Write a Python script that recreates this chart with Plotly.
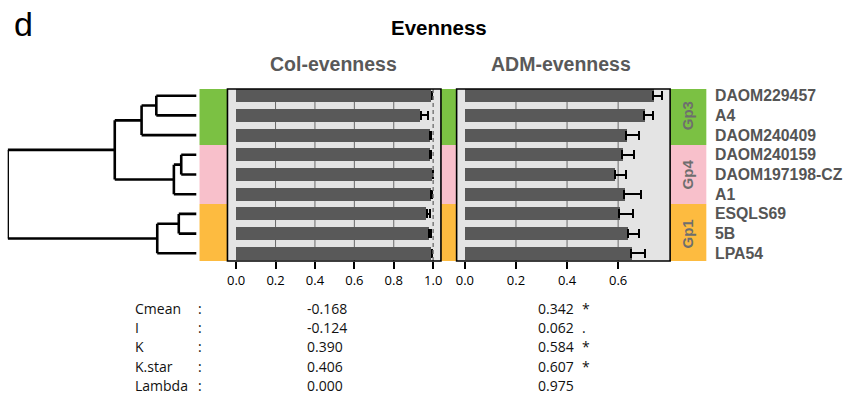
import plotly.graph_objects as go

W, H = 844, 395

# ---------------- data ----------------
strains = ["DAOM229457", "A4", "DAOM240409", "DAOM240159", "DAOM197198-CZ",
           "A1", "ESQLS69", "5B", "LPA54"]
groups = ["Gp3", "Gp4", "Gp1"]
group_sizes = [3, 3, 3]
group_colors = ["#7BC143", "#F8C0CB", "#FDBB40"]

col_mean = [0.992, 0.938, 0.984, 0.985, 0.997, 0.989, 0.967, 0.980, 0.992]
col_err = [0.004, 0.034, 0.005, 0.005, 0.003, 0.004, 0.017, 0.007, 0.004]
adm_mean = [0.737, 0.702, 0.632, 0.616, 0.586, 0.624, 0.605, 0.639, 0.652]
adm_err = [0.034, 0.034, 0.049, 0.048, 0.043, 0.066, 0.055, 0.042, 0.052]

col_ticks = [0.0, 0.2, 0.4, 0.6, 0.8, 1.0]
adm_ticks = [0.0, 0.2, 0.4, 0.6]
panel_titles = ["Col-evenness", "ADM-evenness"]
main_title = "Evenness"
panel_letter = "d"

# dendrogram (hclust style: negative = leaf (1-based), positive = earlier merge row)
merge = [(-1, -2), (1, -3), (-4, -5), (3, -6), (2, 4), (-7, -8), (6, -9), (5, 7)]
merge_height = [0.213, 0.291, 0.081, 0.120, 0.433, 0.094, 0.208, 1.0]

stat_names = ["Cmean", "I", "K", "K.star", "Lambda"]
col_stats = [-0.168, -0.124, 0.390, 0.406, 0.000]
adm_stats = [0.342, 0.062, 0.584, 0.607, 0.975]
adm_sig = ["*", ".", "*", "*", ""]

# ---------------- geometry helpers ----------------
def px(x):
    return x / W


def py(y):
    return 1 - y / H


Y_RANGE = [8.39, -0.34]
Y_DOM = [py(261), py(89)]
COL_DOM = [px(227), px(441)]
ADM_DOM = [px(456.7), px(670.7)]
ypos = list(range(len(strains)))

fig = go.Figure()

# ---------------- dendrogram ----------------
node_y = {}
node_h = {}
for i in range(len(strains)):
    node_y[-(i + 1)] = ypos[i]
    node_h[-(i + 1)] = 0.0
dx, dy = [], []
for k, ((a, b), h) in enumerate(zip(merge, merge_height), start=1):
    for c in (a, b):
        dx += [node_h[c], h, None]
        dy += [node_y[c], node_y[c], None]
    dx += [h, h, None]
    dy += [node_y[a], node_y[b], None]
    node_y[k] = (node_y[a] + node_y[b]) / 2
    node_h[k] = h

fig.add_trace(go.Scatter(x=dx, y=dy, mode="lines", xaxis="x", yaxis="y",
                         line=dict(color="black", width=2.6), cliponaxis=False,
                         hoverinfo="skip"))

# ---------------- bars ----------------
for vals, errs, xa in [(col_mean, col_err, "x2"), (adm_mean, adm_err, "x3")]:
    fig.add_trace(go.Bar(
        x=vals, y=ypos, orientation="h", width=0.66, xaxis=xa, yaxis="y",
        marker=dict(color="#595959", line=dict(width=0)),
        error_x=dict(type="data", array=errs, arrayminus=[0] * len(errs),
                     symmetric=False, color="black", thickness=2, width=4.5),
    ))

shapes = []
# group colour strips
start = 0
for g, n, c in zip(groups, group_sizes, group_colors):
    y0 = max(start - 0.5, min(Y_RANGE))
    y1 = min(start + n - 0.5, max(Y_RANGE))
    shapes.append(dict(type="rect", xref="paper", yref="y", x0=px(199), x1=px(707),
                       y0=y0, y1=y1, fillcolor=c, line=dict(width=0), layer="below"))
    start += n
# panel backgrounds
for dom in (COL_DOM, ADM_DOM):
    shapes.append(dict(type="rect", xref="paper", yref="paper", x0=dom[0], x1=dom[1],
                       y0=Y_DOM[0], y1=Y_DOM[1], fillcolor="#E4E4E4",
                       line=dict(width=0), layer="below"))
# grid segments (visible between bars)
for ticks, xa in [(col_ticks[1:-1], "x2"), (adm_ticks[1:], "x3")]:
    for t in ticks:
        shapes.append(dict(type="line", xref=xa, yref="y domain", x0=t, x1=t, y0=0, y1=1,
                           line=dict(color="#6a6a6a", width=1), layer="below"))
# dashed reference line at 1.0 in Col panel
shapes.append(dict(type="line", xref="x2", yref="y domain", x0=col_ticks[-1], x1=col_ticks[-1],
                   y0=0, y1=1, line=dict(color="#7a7a7a", width=1.5, dash="4px,3px"),
                   layer="above"))
# panel borders
for dom in (COL_DOM, ADM_DOM):
    shapes.append(dict(type="rect", xref="paper", yref="paper", x0=dom[0], x1=dom[1],
                       y0=Y_DOM[0], y1=Y_DOM[1], fillcolor="rgba(0,0,0,0)",
                       line=dict(color="black", width=1.6), layer="above"))

annotations = []
FONT = "Liberation Sans, Arial, sans-serif"
TFONT = "Open Sans, sans-serif"
annotations.append(dict(text=panel_letter, x=px(11), y=py(24), xref="paper", yref="paper",
                        xanchor="left", yanchor="middle", showarrow=False,
                        font=dict(family=FONT, size=34, color="black")))
annotations.append(dict(text="<b>%s</b>" % main_title, x=px(439), y=py(27), xref="paper",
                        yref="paper", xanchor="center", yanchor="middle", showarrow=False,
                        font=dict(family=FONT, size=20.5, color="black")))
for t, xc in zip(panel_titles, [333.6, 561]):
    annotations.append(dict(text="<b>%s</b>" % t, x=px(xc), y=py(64), xref="paper",
                            yref="paper", xanchor="center", yanchor="middle", showarrow=False,
                            font=dict(family=FONT, size=19.5, color="#595959")))
# group labels
start = 0
for g, n in zip(groups, group_sizes):
    annotations.append(dict(text="<b>%s</b>" % g, x=px(688.5), y=start + (n - 1) / 2,
                            xref="paper", yref="y",
                            textangle=-90, xanchor="center", yanchor="middle", showarrow=False,
                            font=dict(family=FONT, size=15, color="#6e6e6e")))
    start += n
# strain labels
for s, yv in zip(strains, ypos):
    annotations.append(dict(text="<b>%s</b>" % s, x=px(714), y=yv, xref="paper", yref="y",
                            xanchor="left", yanchor="middle", showarrow=False,
                            font=dict(family=FONT, size=15.8, color="#555555")))
# statistics table
for i, (nm, cv, av, sg) in enumerate(zip(stat_names, col_stats, adm_stats, adm_sig)):
    yy = py(308 + 19.4 * i)
    for txt, xx in [(nm, 133), (":", 196.5), ("%.3f" % cv, 305.5), ("%.3f" % av, 537),
                    (sg, 581.5)]:
        if txt == "":
            continue
        annotations.append(dict(text=txt, x=px(xx), y=yy, xref="paper", yref="paper",
                                xanchor="left", yanchor="middle", showarrow=False,
                                borderpad=0,
                                font=dict(family=TFONT, size=14, color="#111111")))

axis_common = dict(anchor="y", ticks="outside", ticklen=7, tickwidth=1.5, tickcolor="black",
                   showgrid=False, zeroline=False, showline=False, tickformat=".1f",
                   tickfont=dict(family=TFONT, size=13, color="black"), fixedrange=True)

fig.update_layout(
    width=W, height=H, margin=dict(l=0, r=0, t=0, b=0),
    paper_bgcolor="white", plot_bgcolor="rgba(0,0,0,0)",
    showlegend=False, bargap=0,
    xaxis=dict(domain=[px(6.7), px(196)], range=[merge_height[-1], 0], visible=False,
               anchor="y", fixedrange=True),
    xaxis2=dict(domain=COL_DOM, range=[-0.044, 1.0395], tickvals=col_ticks, **axis_common),
    xaxis3=dict(domain=ADM_DOM, range=[-0.0324, 0.8035], tickvals=adm_ticks, **axis_common),
    yaxis=dict(domain=Y_DOM, range=Y_RANGE, visible=False, fixedrange=True),
    shapes=shapes, annotations=annotations,
)

fig.write_html("out.html")
